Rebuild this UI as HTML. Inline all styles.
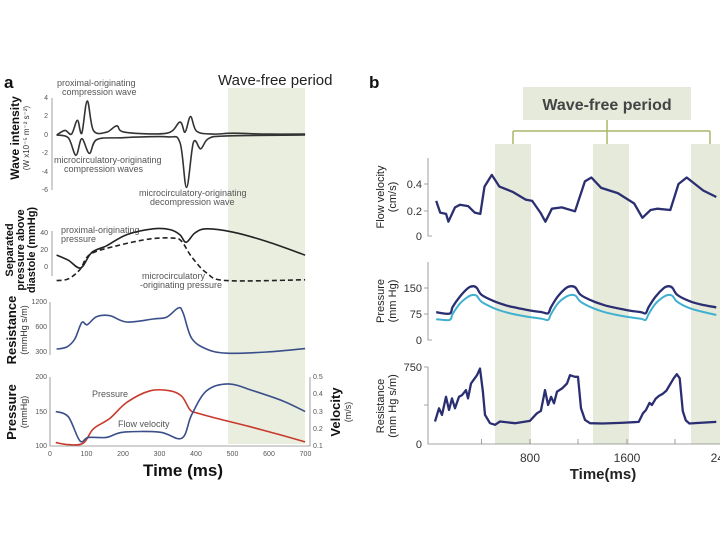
<!DOCTYPE html>
<html><head><meta charset="utf-8"><style>
body{margin:0;background:#fff;}
svg{display:block;font-family:"Liberation Sans",sans-serif;}
</style></head><body>
<svg id="fig" width="720" height="540" viewBox="0 0 720 540">
<rect x="228" y="88" width="77" height="356" fill="#e9eedf"/>
<text x="4" y="88" font-size="17" font-weight="bold" fill="#111">a</text>
<text x="218" y="85" font-size="15" fill="#222">Wave-free period</text>
<rect x="495" y="144" width="36" height="300" fill="#e5eadb"/>
<rect x="593" y="144" width="36" height="300" fill="#e5eadb"/>
<rect x="691" y="144" width="29" height="300" fill="#e5eadb"/>
<text x="369" y="88" font-size="17" font-weight="bold" fill="#111">b</text>
<rect x="523" y="87" width="168" height="33" fill="#e5eadb"/>
<text x="607" y="110" font-size="16" font-weight="bold" fill="#444" text-anchor="middle">Wave-free period</text>
<path d="M607 120V131M513 131H710M513 131V144M607 131V144M710 131V144" stroke="#a8b56a" stroke-width="1.5" fill="none"/>

<g stroke="#888" stroke-width="0.8" fill="none">
<path d="M52 98V190"/><path d="M52 231V276"/><path d="M50 302V355"/>
<path d="M50 377V446H310V377"/>
</g>
<g font-size="7" fill="#555" text-anchor="end">
<text x="48" y="100">4</text><text x="48" y="118">2</text><text x="48" y="137">0</text><text x="48" y="155">-2</text><text x="48" y="174">-4</text><text x="48" y="192">-6</text>
<text x="48" y="235">40</text><text x="48" y="252">20</text><text x="48" y="269">0</text>
<text x="47" y="304">1200</text><text x="47" y="329">600</text><text x="47" y="354">300</text>
<text x="47" y="379">200</text><text x="47" y="414">150</text><text x="47" y="448">100</text>
</g>
<g font-size="7" fill="#555" text-anchor="start">
<text x="313" y="379">0.5</text><text x="313" y="396">0.4</text><text x="313" y="414">0.3</text><text x="313" y="431">0.2</text><text x="313" y="448">0.1</text>
</g>
<g font-size="7" fill="#555" text-anchor="middle">
<text x="50" y="456">0</text><text x="86.5" y="456">100</text><text x="123" y="456">200</text><text x="159.5" y="456">300</text><text x="196" y="456">400</text><text x="232.5" y="456">500</text><text x="269" y="456">600</text><text x="305.5" y="456">700</text>
</g>
<text x="183" y="476" font-size="17" font-weight="bold" text-anchor="middle" fill="#111">Time (ms)</text>
<g fill="#111">
<text transform="translate(19,138) rotate(-90)" font-size="12" font-weight="bold" text-anchor="middle">Wave intensity</text>
<text transform="translate(29,138) rotate(-90)" font-size="8" text-anchor="middle" fill="#333">(W x10⁻⁵ m⁻² s⁻²)</text>
<text transform="translate(13,250) rotate(-90)" font-size="11" font-weight="bold" text-anchor="middle">Separated</text>
<text transform="translate(24,250) rotate(-90)" font-size="11" font-weight="bold" text-anchor="middle">pressure above</text>
<text transform="translate(35,250) rotate(-90)" font-size="11" font-weight="bold" text-anchor="middle">diastole (mmHg)</text>
<text transform="translate(16,330) rotate(-90)" font-size="13" font-weight="bold" text-anchor="middle">Resistance</text>
<text transform="translate(27,330) rotate(-90)" font-size="9" text-anchor="middle" fill="#333">(mmHg s/m)</text>
<text transform="translate(16,412) rotate(-90)" font-size="13" font-weight="bold" text-anchor="middle">Pressure</text>
<text transform="translate(27,412) rotate(-90)" font-size="9" text-anchor="middle" fill="#333">(mmHg)</text>
<text transform="translate(340,412) rotate(-90)" font-size="13" font-weight="bold" text-anchor="middle">Velocity</text>
<text transform="translate(351,412) rotate(-90)" font-size="9" text-anchor="middle" fill="#333">(m/s)</text>
</g>
<g font-size="9" fill="#555">
<text x="57" y="86">proximal-originating</text><text x="62" y="95">compression wave</text>
<text x="54" y="163">microcirculatory-originating</text><text x="64" y="172">compression waves</text>
<text x="139" y="196">microcirculatory-originating</text><text x="150" y="205">decompression wave</text>
<text x="61" y="233">proximal-originating</text><text x="61" y="242">pressure</text>
<text x="142" y="279">microcirculatory</text><text x="140" y="288">-originating pressure</text>
<text x="92" y="397">Pressure</text><text x="118" y="427">Flow velocity</text>
</g>

<g stroke="#888" stroke-width="0.8" fill="none">
<path d="M428 158V236H432"/><path d="M428 262V340H432"/><path d="M428 367V444H720"/>
<path d="M424 184H428M424 211H428M424 288H428M424 314H428M424 367H428M424 405H428"/>
<path d="M481.6 444V439M530 444V439M578 444V439M627 444V439M675 444V439"/>
</g>
<g font-size="11" fill="#333" text-anchor="end">
<text x="422" y="188">0.4</text><text x="422" y="215">0.2</text><text x="422" y="240">0</text>
<text x="422" y="292">150</text><text x="422" y="318">75</text><text x="422" y="344">0</text>
<text x="422" y="371">750</text><text x="422" y="448">0</text>
</g>
<g font-size="12" fill="#333" text-anchor="middle">
<text x="530" y="462">800</text><text x="627" y="462">1600</text><text x="724" y="462">2400</text>
</g>
<text x="603" y="479" font-size="15" font-weight="bold" text-anchor="middle" fill="#222">Time(ms)</text>
<g fill="#222" font-size="11" text-anchor="middle">
<text transform="translate(384,197) rotate(-90)">Flow velocity</text>
<text transform="translate(396,197) rotate(-90)">(cm/s)</text>
<text transform="translate(384,301) rotate(-90)">Pressure</text>
<text transform="translate(396,301) rotate(-90)">(mm Hg)</text>
<text transform="translate(384,406) rotate(-90)">Resistance</text>
<text transform="translate(396,406) rotate(-90)">(mm Hg s/m)</text>
</g>
<g id="marks"></g>
</svg>
<script>
const wiPosT = [18,41,59,75,87,102,119,155,183,205,320,356,370,385,402,447,502,594,699];
const wiPosV = [0,0.5,0.1,1.6,0.2,3.7,0.5,0.3,1.0,0.3,0.2,1.4,0.3,2.0,0.4,0.1,0.2,0.1,0.1];
const wiNegT = [18,50,71,87,108,128,192,320,356,374,393,413,434,484,699];
const wiNegV = [0,-0.3,-2.2,-0.4,-2.0,-0.5,-0.3,-0.2,-0.8,-5.7,-0.8,-1.5,-0.4,-0.1,0];
const sepProxT = [18,50,84,114,155,210,283,329,356,373,397,429,502,594,699];
const sepProxV = [14,8,-1,17,25,38,45,44,38,29,40,45,41,30,14];
const sepMicroT = [18,50,82,110,183,274,338,361,388,429,484,699];
const sepMicroV = [-16,-14,-3,15,25,33,34,30,12,-7,-16,-15];
const resAT = [18,46,68,87,102,128,164,210,283,320,352,365,388,429,484,594,699];
const resAV = [325,345,430,680,640,800,820,690,750,790,1020,880,440,325,290,300,330];
const presAT = [16,50,91,119,164,210,274,329,361,384,402,457,548,639,699];
const presAV = [105,102,104,125,140,163,180,180,172,152,148,140,128,115,106];
const velAT = [16,50,82,105,155,201,301,361,388,429,489,557,639,699];
const velAV = [0.3,0.27,0.13,0.15,0.15,0.18,0.18,0.145,0.28,0.42,0.46,0.42,0.36,0.3];
const flowT = [24,57,106,125,180,220,288,343,389,424,484,547,656,765,819,887,928,982,1064,1173,1255,1309,1390,1527,1663,1731,1799,1853,1962,2030,2098,2234,2343];
const flowV = [0.27,0.18,0.17,0.11,0.22,0.24,0.23,0.18,0.17,0.38,0.47,0.38,0.34,0.28,0.27,0.18,0.11,0.21,0.22,0.19,0.42,0.45,0.37,0.33,0.25,0.14,0.2,0.21,0.2,0.4,0.45,0.35,0.3];
const presBT = [24,135,160,220,290,330,360,400,500,600,700,800,900,950,975,1030,1100,1146,1180,1220,1320,1420,1520,1620,1720,1758,1783,1840,1910,1949,1980,2020,2120,2220,2343];
const aorticV = [80,76,95,125,150,155,150,130,112,100,92,85,80,77,95,125,150,155,150,130,112,100,92,85,80,77,95,125,150,155,150,130,112,102,94];
const distalV = [60,58,75,105,125,130,127,110,92,80,72,66,61,58,75,105,125,130,127,110,92,80,72,66,61,58,75,105,125,130,127,110,92,82,72];
const resBT = [14,47,72,105,130,155,180,213,238,271,287,312,362,387,411,428,469,511,552,676,800,858,891,925,950,975,999,1024,1066,1107,1132,1173,1198,1223,1256,1297,1400,1550,1700,1736,1760,1790,1810,1840,1870,1900,1930,1960,1990,2016,2040,2065,2090,2120,2200,2343];
const resBV = [219,348,283,460,331,444,348,460,476,525,444,589,670,734,509,283,203,187,219,203,225,299,322,525,380,460,396,509,541,589,670,654,654,348,235,203,200,205,215,300,330,400,380,440,470,490,520,580,640,680,640,320,230,200,205,215];

const xA = t => 50 + t * 0.365;
const yWI = v => 135 - v * 9.2;
const ySep = v => 267 - v * 0.85;
const yResA = v => 352 - Math.log2(v / 300) * 25;
const yPresA = v => 446 - (v - 100) * 0.69;
const yVelA = v => 446 - (v - 0.1) * 172.5;
const xB = t => 433.3 + t * 0.1208;
const yFlow = v => 236 - v * 130;
const yPresB = v => 340 - v * 0.347;
const yResB = v => 444 - v * 0.1027;

const NS = 'http://www.w3.org/2000/svg';
const marks = document.getElementById('marks');
function draw(ts, vs, xf, yf, color, w, dash, name, smooth) {
  const P = ts.map((t, i) => [xf(t), yf(vs[i])]);
  let d = 'M' + P[0][0].toFixed(1) + ' ' + P[0][1].toFixed(1);
  for (let i = 1; i < P.length; i++) {
    if (smooth) {
      const p0 = P[Math.max(0, i - 2)], p1 = P[i - 1], p2 = P[i], p3 = P[Math.min(P.length - 1, i + 1)];
      const c1x = p1[0] + (p2[0] - p0[0]) / 6, c1y = p1[1] + (p2[1] - p0[1]) / 6;
      const c2x = p2[0] - (p3[0] - p1[0]) / 6, c2y = p2[1] - (p3[1] - p1[1]) / 6;
      d += 'C' + [c1x, c1y, c2x, c2y, p2[0], p2[1]].map(n => n.toFixed(1)).join(' ');
    } else {
      d += 'L' + P[i][0].toFixed(1) + ' ' + P[i][1].toFixed(1);
    }
  }
  const p = document.createElementNS(NS, 'path');
  p.setAttribute('d', d);
  p.setAttribute('fill', 'none');
  p.setAttribute('stroke', color);
  p.setAttribute('stroke-width', w);
  p.setAttribute('stroke-linejoin', 'round');
  if (dash) p.setAttribute('stroke-dasharray', dash);
  
  
  marks.appendChild(p);
}
draw(wiPosT, wiPosV, xA, yWI, '#333', 1.6, null, 'wave-intensity-forward-line', true);
draw(wiNegT, wiNegV, xA, yWI, '#333', 1.6, null, 'wave-intensity-backward-line', true);
draw(sepProxT, sepProxV, xA, ySep, '#222', 1.6, null, 'proximal-pressure-line', true);
draw(sepMicroT, sepMicroV, xA, ySep, '#222', 1.6, '5,3', 'microcirculatory-pressure-line', true);
draw(resAT, resAV, xA, yResA, '#3a4f8a', 1.6, null, 'resistance-a-line', true);
draw(presAT, presAV, xA, yPresA, '#c8382c', 1.6, null, 'pressure-a-line', true);
draw(velAT, velAV, xA, yVelA, '#3a4f8a', 1.6, null, 'velocity-a-line', true);
draw(flowT, flowV, xB, yFlow, '#2b2f72', 2.3, null, 'flow-velocity-line', false);
draw(presBT, aorticV, xB, yPresB, '#2b2f72', 2.3, null, 'aortic-pressure-line', true);
draw(presBT, distalV, xB, yPresB, '#3fb0cf', 2, null, 'distal-pressure-line', true);
draw(resBT, resBV, xB, yResB, '#2b2f72', 2.3, null, 'resistance-b-line', false);
</script>
</body></html>
